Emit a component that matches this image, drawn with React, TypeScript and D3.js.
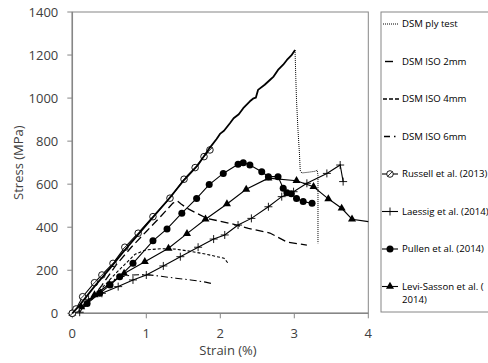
import React from "react";
import * as d3 from "d3";

// Axis ticks
const strainTicks = [0, 1, 2, 3, 4];
const stressTicks = [0, 200, 400, 600, 800, 1000, 1200, 1400];

// DSM ply test: rising part (dense data) and post-failure drop
const plyRiseStrain = [0, 0.1, 0.3, 0.5, 0.7, 0.9, 1.1, 1.3, 1.5, 1.7, 1.86, 1.95, 2.0, 2.05, 2.13, 2.18, 2.25, 2.31, 2.4, 2.45, 2.48, 2.51, 2.6, 2.67, 2.72, 2.78, 2.85, 2.9, 2.96, 3.01];
const plyRiseStress = [0, 38, 125, 205, 290, 370, 450, 530, 615, 690, 770, 810, 835, 848, 883, 906, 925, 953, 985, 999, 1002, 1038, 1062, 1084, 1100, 1131, 1155, 1177, 1198, 1223];
const plyDropStrain = [3.01, 3.02, 3.03, 3.05, 3.07, 3.08];
const plyDropStress = [1223, 1100, 990, 850, 740, 665];
const plyTailStrain = [3.08, 3.1, 3.2, 3.28, 3.31, 3.32, 3.32];
const plyTailStress = [665, 652, 656, 660, 665, 640, 325];

// DSM ISO specimens
const iso2Strain = [0, 0.1, 0.2, 0.4, 0.6, 0.8, 1.0, 1.2, 1.36, 1.42, 1.47, 1.55, 1.82, 2.13, 2.38, 2.67, 2.9, 3.17];
const iso2Stress = [0, 12, 40, 130, 228, 308, 380, 452, 512, 522, 508, 488, 441, 418, 395, 373, 331, 317];
const iso4Strain = [0, 0.15, 0.3, 0.6, 0.85, 1.0, 1.2, 1.4, 1.6, 1.8, 2.05, 2.1];
const iso4Stress = [0, 35, 80, 190, 275, 295, 300, 298, 288, 275, 256, 235];
const iso6Strain = [0, 0.2, 0.4, 0.6, 0.8, 1.0, 1.2, 1.4, 1.6, 1.8, 1.91];
const iso6Stress = [0, 50, 110, 165, 178, 180, 172, 163, 155, 145, 136];

// Literature data
const russellStrain = [0, 0.05, 0.14, 0.3, 0.4, 0.55, 0.71, 0.89, 1.09, 1.32, 1.51, 1.66, 1.78, 1.86];
const russellStress = [0, 20, 77, 142, 178, 232, 307, 372, 449, 535, 623, 677, 728, 759];
const laessigStrain = [0.1, 0.22, 0.4, 0.62, 0.82, 1.0, 1.23, 1.46, 1.7, 1.91, 2.06, 2.24, 2.42, 2.65, 2.83, 2.99, 3.17, 3.44, 3.62, 3.66];
const laessigStress = [5, 65, 93, 124, 155, 178, 220, 263, 307, 345, 364, 410, 441, 495, 542, 565, 604, 650, 689, 612];
const pullenStrain = [0, 0.2, 0.37, 0.51, 0.64, 0.82, 1.09, 1.28, 1.48, 1.68, 1.85, 2.04, 2.24, 2.31, 2.4, 2.56, 2.65, 2.78, 2.85, 2.9, 2.96, 3.03, 3.12, 3.24];
const pullenStress = [0, 45, 93, 131, 170, 232, 337, 392, 465, 534, 598, 650, 692, 700, 689, 658, 635, 635, 581, 560, 556, 534, 519, 511];
const leviStrain = [0, 0.12, 0.3, 0.5, 0.7, 0.98, 1.3, 1.55, 1.8, 2.09, 2.35, 2.65, 3.03, 3.26, 3.46, 3.64, 3.78, 4.0];
const leviStress = [0, 30, 85, 135, 185, 240, 302, 370, 437, 508, 576, 628, 616, 588, 532, 488, 437, 426];

const legendLabels = [
  "DSM ply test",
  "DSM ISO 2mm",
  "DSM ISO 4mm",
  "DSM ISO 6mm",
  "Russell et al. (2013)",
  "Laessig et al. (2014)",
  "Pullen et al. (2014)",
  "Levi-Sasson et al. (2014)",
];

const W = 488;
const H = 363;
const FONT = "'Open Sans', 'Noto Sans', sans-serif";
const AXIS = "#868686";
const TEXT = "#404040";

const x = d3.scaleLinear().domain([0, 4]).range([72.3, 368.3]);
const y = d3.scaleLinear().domain([0, 1400]).range([313.3, 12]);

const zip = (xs: number[], ys: number[]) => xs.map((v, i) => [v, ys[i]] as [number, number]);
const line = d3
  .line<[number, number]>()
  .x((d) => x(d[0]))
  .y((d) => y(d[1]));

type MarkerKind = "ring" | "plus" | "dot" | "tri";

function Marker({ kind, cx, cy }: { kind: MarkerKind; cx: number; cy: number }) {
  if (kind === "ring")
    return (
      <g>
        <circle cx={cx} cy={cy} r={3.3} fill="#fff" stroke="#000" strokeWidth={0.9} />
        <line x1={cx - 2.3} y1={cy + 2.3} x2={cx + 2.3} y2={cy - 2.3} stroke="#000" strokeWidth={0.8} />
      </g>
    );
  if (kind === "plus")
    return (
      <path d={`M${cx - 4},${cy}H${cx + 4}M${cx},${cy - 4}V${cy + 4}`} stroke="#000" strokeWidth={0.9} />
    );
  if (kind === "dot") return <circle cx={cx} cy={cy} r={3.5} fill="#000" />;
  return <path d={d3.symbol(d3.symbolTriangle, 28)()!} transform={`translate(${cx},${cy})`} fill="#000" />;
}

const markerSeries: { strain: number[]; stress: number[]; kind: MarkerKind; skipLast?: boolean }[] = [
  { strain: laessigStrain, stress: laessigStress, kind: "plus" },
  { strain: leviStrain, stress: leviStress, kind: "tri", skipLast: true },
  { strain: pullenStrain, stress: pullenStress, kind: "dot" },
  { strain: russellStrain, stress: russellStress, kind: "ring" },
];

export default function App() {
  const legendX = 381;
  const legendY0 = 24;
  const legendStep = 37.5;
  const legendFont = 9.6;

  return (
    <svg
      width={W}
      height={H}
      style={{ position: "fixed", left: 0, top: 0, background: "#fff" }}
      fontFamily={FONT}
    >
      <rect x={0} y={0} width={W} height={H} fill="#fff" />

      {/* plot frame */}
      <rect x={x(0)} y={y(1400)} width={x(4) - x(0)} height={y(0) - y(1400)} fill="none" stroke={AXIS} strokeWidth={1} />

      {/* y axis */}
      {stressTicks.map((t) => (
        <g key={t}>
          <line x1={x(0) - 5} x2={x(0)} y1={y(t)} y2={y(t)} stroke={AXIS} />
          <text x={x(0) - 14} y={y(t)} dy="0.35em" textAnchor="end" fontSize={13} fill={TEXT}>
            {t}
          </text>
        </g>
      ))}
      {/* x axis */}
      {strainTicks.map((t) => (
        <g key={t}>
          <line x1={x(t)} x2={x(t)} y1={y(0)} y2={y(0) + 5} stroke={AXIS} />
          <text x={x(t)} y={333} dy="0.35em" textAnchor="middle" fontSize={13} fill={TEXT}>
            {t}
          </text>
        </g>
      ))}
      <line x1={x(0)} x2={x(4)} y1={y(0)} y2={y(0)} stroke={AXIS} strokeWidth={1.5} />
      <line x1={x(0)} x2={x(0)} y1={y(0)} y2={y(1400)} stroke={AXIS} strokeWidth={1.5} />

      <text x={228} y={350} dy="0.35em" textAnchor="middle" fontSize={13} fill={TEXT}>
        Strain (%)
      </text>
      <text
        transform={`translate(18,${(y(0) + y(1400)) / 2}) rotate(-90)`}
        dy="0.35em"
        textAnchor="middle"
        fontSize={13}
        fill={TEXT}
      >
        Stress (MPa)
      </text>

      {/* DSM ISO curves */}
      <path d={line(zip(iso6Strain, iso6Stress))!} fill="none" stroke="#000" strokeWidth={1.1} strokeDasharray="7,3,1.5,3" />
      <path d={line(zip(iso4Strain, iso4Stress))!} fill="none" stroke="#000" strokeWidth={1.1} strokeDasharray="3,2" />
      <path d={line(zip(iso2Strain, iso2Stress))!} fill="none" stroke="#000" strokeWidth={1.3} strokeDasharray="8,4" />

      {/* literature curves */}
      {markerSeries.map((s, i) => (
        <g key={i}>
          <path d={line(zip(s.strain, s.stress))!} fill="none" stroke="#000" strokeWidth={1.1} />
          {s.strain.map((v, j) =>
            s.skipLast && j === s.strain.length - 1 ? null : (
              <Marker key={j} kind={s.kind} cx={x(v)} cy={y(s.stress[j])} />
            )
          )}
        </g>
      ))}

      {/* DSM ply test */}
      <path d={line(zip(plyRiseStrain, plyRiseStress))!} fill="none" stroke="#000" strokeWidth={1.8} strokeLinejoin="round" />
      <path d={line(zip(plyDropStrain, plyDropStress))!} fill="none" stroke="#000" strokeWidth={1} strokeDasharray="1,1" />
      <path d={line(zip(plyTailStrain, plyTailStress))!} fill="none" stroke="#000" strokeWidth={1} strokeDasharray="1,1" />

      {/* legend */}
      <rect x={legendX} y={12} width={130} height={300} fill="#fff" stroke={AXIS} />
      {legendLabels.map((lab, i) => {
        const ly = legendY0 + i * legendStep;
        const tx = 402;
        let sample: React.ReactNode = null;
        if (i === 0)
          sample = <line x1={383} x2={398} y1={ly} y2={ly} stroke="#000" strokeWidth={1} strokeDasharray="1,1" />;
        else if (i === 1) sample = <line x1={385} x2={393} y1={ly} y2={ly} stroke="#000" strokeWidth={1.4} />;
        else if (i === 2)
          sample = <line x1={383} x2={399} y1={ly} y2={ly} stroke="#000" strokeWidth={1.3} strokeDasharray="4,2" />;
        else if (i === 3)
          sample = <line x1={384} x2={397} y1={ly} y2={ly} stroke="#000" strokeWidth={1.3} strokeDasharray="6,4,1.5,10" />;
        else {
          const kind: MarkerKind = (["ring", "plus", "dot", "tri"] as MarkerKind[])[i - 4];
          sample = (
            <g>
              <line x1={382} x2={398} y1={ly} y2={ly} stroke="#000" strokeWidth={1.1} />
              <Marker kind={kind} cx={390} cy={ly} />
            </g>
          );
        }
        const wrap = i === 7;
        return (
          <g key={lab}>
            {sample}
            {wrap ? (
              <text x={tx} y={ly} dy="0.35em" fontSize={legendFont} fill="#000">
                <tspan x={tx}>Levi-Sasson et al. (</tspan>
                <tspan x={tx} dy="13">2014)</tspan>
              </text>
            ) : (
              <text x={tx} y={ly} dy="0.35em" fontSize={legendFont} fill="#000">
                {lab}
              </text>
            )}
          </g>
        );
      })}
    </svg>
  );
}
